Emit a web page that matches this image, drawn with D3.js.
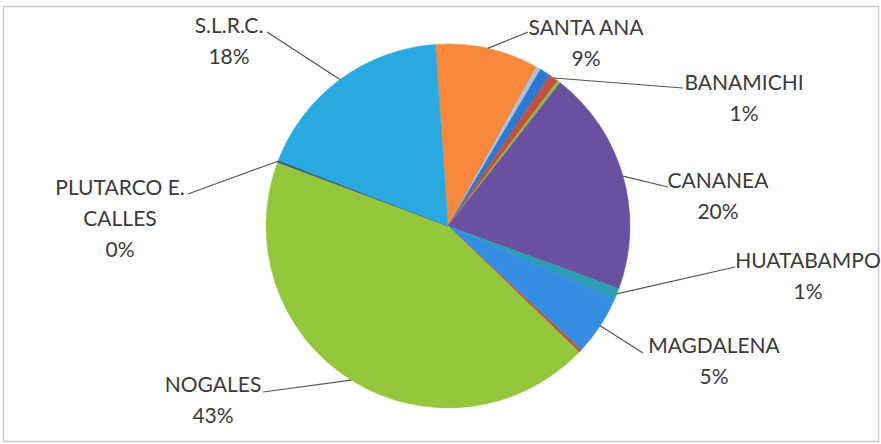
<!DOCTYPE html>
<html>
<head>
<meta charset="utf-8">
<script src="https://cdn.jsdelivr.net/npm/d3@7"></script>
<style>
	body { margin: 0; background: #fff; }
	svg { display: block; }
</style>
</head>
<body>
<div id="chart"></div>
<script>
// slices, clockwise from the top (unlabelled ones are the thin slivers)
const names = ["SANTA ANA", "", "", "BANAMICHI", "", "CANANEA", "HUATABAMPO", "MAGDALENA", "", "NOGALES", "PLUTARCO E. CALLES", "S.L.R.C."];
const values = [9.2, 0.4, 1.0, 0.8, 0.3, 20.0, 1.0, 5.3, 0.3, 43.5, 0.2, 18.0];
const pctLabels = ["9%", "", "", "1%", "", "20%", "1%", "5%", "", "43%", "0%", "18%"];
const colors = ["#f8883c", "#a9c3df", "#2f78d2", "#c2503e", "#8db84a", "#6a50a0", "#2b9db5", "#358ee4", "#b85a45", "#94c73c", "#3d5775", "#29a9e0"];

// where each label sits (text centre x, first baseline y, leader end)
const labelLayout = {
	"SANTA ANA": { x: 586, y: 35, lines: ["SANTA ANA"], ex: 528, ey: 32 },
	"BANAMICHI": { x: 744, y: 90, lines: ["BANAMICHI"], ex: 683, ey: 88 },
	"CANANEA": { x: 718, y: 188, lines: ["CANANEA"], ex: 668, ey: 187 },
	"HUATABAMPO": { x: 808, y: 268, lines: ["HUATABAMPO"], ex: 735, ey: 267 },
	"MAGDALENA": { x: 714, y: 353, lines: ["MAGDALENA"], ex: 643, ey: 353 },
	"NOGALES": { x: 213, y: 392, lines: ["NOGALES"], ex: 263, ey: 392 },
	"PLUTARCO E. CALLES": { x: 120, y: 195, lines: ["PLUTARCO E.", "CALLES"], ex: 188, ey: 194 },
	"S.L.R.C.": { x: 229, y: 33, lines: ["S.L.R.C."], ex: 267, ey: 32 }
};

const width = 881,
	height = 444,
	radius = 182,
	cx = 448,
	cy = 226,
	lineGap = 31;

const svg = d3
	.select("#chart")
	.append("svg")
	.attr("width", width)
	.attr("height", height);

// chart frame
svg
	.append("rect")
	.attr("x", 3.5)
	.attr("y", 6.5)
	.attr("width", 875)
	.attr("height", 435)
	.style("fill", "none")
	.style("stroke", "#c9c9c9")
	.style("stroke-width", 1.5);

const data = names.map((n, i) => ({ name: n, value: values[i], pct: pctLabels[i], color: colors[i] }));

const pie = d3
	.pie()
	.sort(null)
	.value((d) => d.value)
	.startAngle((-4 * Math.PI) / 180)
	.endAngle((356 * Math.PI) / 180);

const arc = d3.arc().innerRadius(0).outerRadius(radius);
const edge = d3.arc().innerRadius(radius).outerRadius(radius);

const g = svg.append("g").attr("transform", `translate(${cx},${cy})`);

const arcs = pie(data);

g.selectAll("path")
	.data(arcs)
	.enter()
	.append("path")
	.attr("d", arc)
	.style("fill", (d) => d.data.color)
	.style("stroke", (d) => d.data.color)
	.style("stroke-width", 0.5);

// leader lines
const labelled = arcs.filter((d) => d.data.name !== "");

svg
	.selectAll("line.leader")
	.data(labelled)
	.enter()
	.append("line")
	.attr("class", "leader")
	.attr("x1", (d) => cx + edge.centroid(d)[0])
	.attr("y1", (d) => cy + edge.centroid(d)[1])
	.attr("x2", (d) => labelLayout[d.data.name].ex)
	.attr("y2", (d) => labelLayout[d.data.name].ey)
	.style("stroke", "#555")
	.style("stroke-width", 1.2);

// label text
labelled.forEach((d) => {
	const lay = labelLayout[d.data.name];
	const t = svg
		.append("text")
		.attr("text-anchor", "middle")
		.style("font-family", "Lato, 'Open Sans', sans-serif")
		.style("font-size", "21px")
		.style("fill", "#3a3a3a");
	lay.lines.concat([d.data.pct]).forEach((txt, i) => {
		t.append("tspan")
			.attr("x", lay.x)
			.attr("y", lay.y + i * lineGap)
			.text(txt);
	});
});
</script>
</body>
</html>
